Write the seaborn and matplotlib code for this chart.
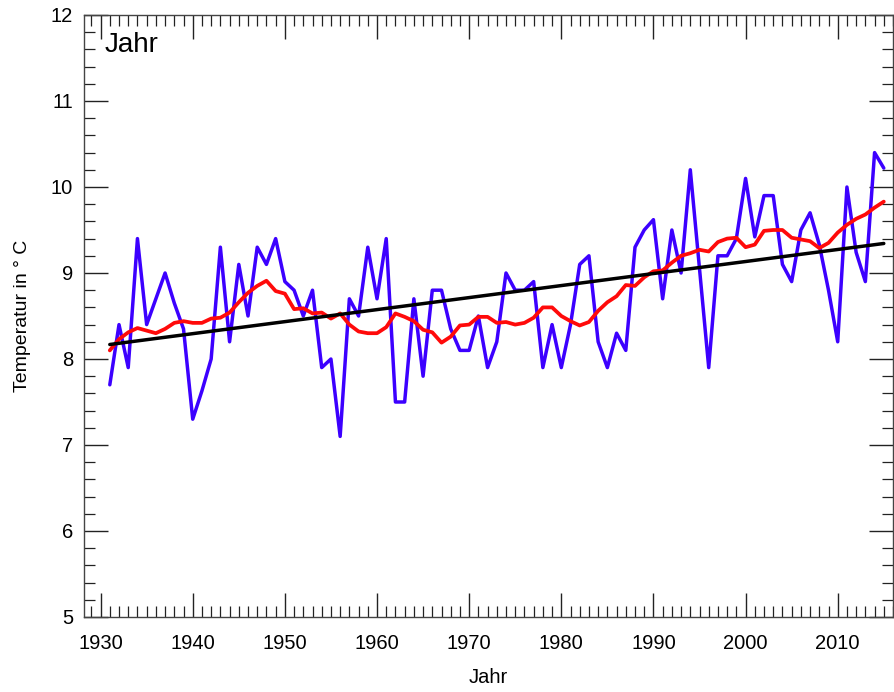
import numpy as np
import pandas as pd
import matplotlib
matplotlib.use("Agg")
import matplotlib.pyplot as plt
from matplotlib.ticker import MultipleLocator
import seaborn as sns

years = list(range(1931, 2016))
annual_temp = [
    7.7, 8.4, 7.9, 9.4, 8.4, 8.7, 9.0, 8.65, 8.35, 7.3,
    7.63, 8.0, 9.3, 8.2, 9.1, 8.5, 9.3, 9.1, 9.4, 8.9,
    8.8, 8.5, 8.8, 7.9, 8.0, 7.1, 8.7, 8.5, 9.3, 8.7,
    9.4, 7.5, 7.5, 8.7, 7.8, 8.8, 8.8, 8.35, 8.1, 8.1,
    8.5, 7.9, 8.2, 9.0, 8.8, 8.8, 8.9, 7.9, 8.4, 7.9,
    8.4, 9.1, 9.2, 8.2, 7.9, 8.3, 8.1, 9.3, 9.5, 9.62,
    8.7, 9.5, 9.0, 10.2, 9.05, 7.9, 9.2, 9.2, 9.4, 10.1,
    9.42, 9.9, 9.9, 9.1, 8.9, 9.5, 9.7, 9.33, 8.8, 8.2,
    10.0, 9.24, 8.9, 10.4, 10.22,
]
smoothed_temp = [
    8.10, 8.23, 8.31, 8.36, 8.33, 8.30, 8.35, 8.42, 8.44, 8.42,
    8.42, 8.47, 8.48, 8.54, 8.66, 8.77, 8.85, 8.91, 8.79, 8.76,
    8.58, 8.59, 8.53, 8.54, 8.47, 8.53, 8.40, 8.32, 8.30, 8.30,
    8.37, 8.53, 8.49, 8.44, 8.34, 8.31, 8.19, 8.26, 8.39, 8.40,
    8.49, 8.49, 8.42, 8.43, 8.40, 8.42, 8.48, 8.60, 8.60, 8.50,
    8.44, 8.39, 8.43, 8.56, 8.66, 8.73, 8.86, 8.85, 8.95, 9.02,
    9.03, 9.12, 9.20, 9.23, 9.27, 9.25, 9.36, 9.40, 9.41, 9.30,
    9.33, 9.49, 9.50, 9.50, 9.41, 9.39, 9.37, 9.29, 9.35, 9.47,
    9.56, 9.63, 9.68, 9.76, 9.83,
]
x_ticks = [1930, 1940, 1950, 1960, 1970, 1980, 1990, 2000, 2010]
y_ticks = [5, 6, 7, 8, 9, 10, 11, 12]

df = pd.DataFrame({"Jahr": years, "Temp": annual_temp, "Smooth": smoothed_temp})

sns.set_theme(style="ticks")
plt.rcParams["font.family"] = ["Liberation Sans", "DejaVu Sans"]
plt.rcParams["text.color"] = "black"
plt.rcParams["axes.labelcolor"] = "black"
plt.rcParams["xtick.labelcolor"] = "black"
plt.rcParams["ytick.labelcolor"] = "black"

fig = plt.figure(figsize=(8.94, 6.92), dpi=100)
ax = fig.add_axes([84 / 894, 1 - 617 / 692, 809 / 894, 602 / 692])

sns.lineplot(data=df, x="Jahr", y="Temp", ax=ax, color="#3c00ff", lw=2.5)
sns.lineplot(data=df, x="Jahr", y="Smooth", ax=ax, color="#ff0a0a", lw=2.7)
sns.regplot(data=df, x="Jahr", y="Temp", ax=ax, scatter=False, ci=None,
            truncate=True, line_kws=dict(color="black", lw=2.5))

ax.set_xlim(1928.2, 2016.0)
ax.set_ylim(5, 12)
ax.set_xticks(x_ticks)
ax.set_yticks(y_ticks)
ax.xaxis.set_minor_locator(MultipleLocator(1))
ax.yaxis.set_minor_locator(MultipleLocator(0.2))
ax.tick_params(which="major", direction="in", length=17, width=1.0,
               top=True, right=True, labelsize=14.5, color="#222222")
ax.tick_params(which="minor", direction="in", length=8, width=0.9,
               top=True, right=True, color="#222222")
ax.tick_params(axis="x", which="major", pad=12)
ax.tick_params(axis="y", which="major", pad=8)
for s in ax.spines.values():
    s.set_visible(True)
    s.set_linewidth(1.0)
    s.set_color("#444444")

ax.set_xlabel("Jahr", fontsize=14.5, labelpad=11)
ax.set_ylabel("Temperatur in ° C", fontsize=14, labelpad=14)
ax.text(0.026, 0.95, "Jahr", transform=ax.transAxes, fontsize=20,
        ha="left", va="center")

fig.savefig("out.png", dpi=100)
